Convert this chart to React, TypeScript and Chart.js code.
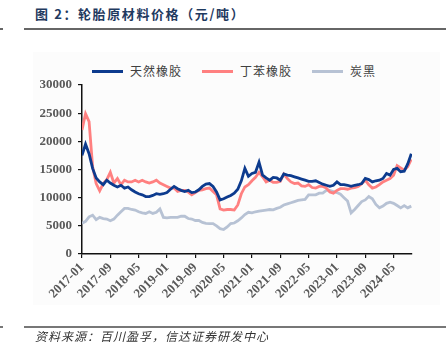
import React, { useEffect, useRef } from 'react';
import { Chart, registerables } from 'chart.js';

Chart.register(...registerables);

// x-axis tick labels (every 8 months, monthly data index 0 = 2017-01)
const tickLabels = ['2017-01', '2017-09', '2018-05', '2019-01', '2019-09', '2020-05', '2021-01', '2021-09', '2022-05', '2023-01', '2023-09', '2024-05'];

// 天然橡胶 (monthly, 2017-01 .. 2024-10)
const naturalRubber = [
  17500, 19500, 17800, 15200, 13500, 12800, 12300, 13100, 12600, 12200, 11900, 12200,
  11700, 11900, 11400, 11000, 10700, 10500, 10200, 10200, 10400, 10700, 10600, 10700,
  10900, 11500, 12000, 11600, 11300, 11100, 11300, 10900, 11000, 11400, 12000, 12400,
  12500, 12000, 11000, 9600, 9800, 10100, 10400, 10800, 11500, 13000, 15200, 13800,
  14300, 14500, 16300, 14000, 13500, 13100, 13600, 13500, 13100, 14200, 14000, 13900,
  13700, 13500, 13300, 13100, 12900, 12900, 13000, 12700, 12400, 12200, 12000, 12200,
  12800, 12300, 12300, 12200, 12000, 12200, 12300, 12500, 13400, 13200, 12800, 13000,
  13100, 13400, 14300, 14000, 15000, 15200, 14600, 14700, 16000, 17800,
];

// 丁苯橡胶
const sbr = [
  22000, 24900, 23500, 15500, 12500, 11200, 12500, 13200, 14500, 12600, 13400, 12300,
  13100, 12800, 12800, 13100, 12800, 13100, 12800, 12600, 12800, 13100, 12600, 12300,
  12000, 11700, 11700, 11100, 11300, 11300, 11000, 10500, 10900, 11300, 11400, 11600,
  11700, 11100, 10500, 8000, 7800, 7900, 7900, 7800, 8700, 10700, 11900, 12300,
  13000, 13600, 14500, 13700, 12800, 13100, 12700, 12700, 12900, 14200, 13400, 12800,
  12500, 12600, 12100, 12000, 12300, 11800, 11700, 12000, 12000, 11700, 11000, 10800,
  11300, 11600, 11600, 11500, 11700, 11800, 12000, 12500, 13100, 12300, 11700, 11900,
  12300, 12800, 13100, 13400, 14000, 15700, 15300, 14900, 15500, 16800,
];

// 炭黑
const carbonBlack = [
  5450, 5800, 6600, 6900, 6100, 6500, 6300, 6200, 5900, 6200, 6900, 7500,
  8100, 8100, 7900, 7800, 7500, 7300, 7200, 7500, 7200, 7400, 8000, 6500,
  6400, 6500, 6500, 6500, 6700, 6700, 6300, 6200, 5950, 5950, 5600, 5450,
  5400, 5400, 5000, 4500, 4350, 4800, 5400, 5500, 5900, 6400, 7000, 7400,
  7300, 7500, 7600, 7700, 7800, 7900, 7850, 8100, 8300, 8700, 8900, 9100,
  9300, 9500, 9600, 9700, 10500, 10500, 10500, 10800, 10800, 11300, 11300, 11100,
  10900, 10600, 10000, 9400, 7300, 7900, 8600, 9300, 9600, 10200, 9800, 8800,
  8200, 8500, 9000, 9200, 9000, 8600, 8200, 8600, 8200, 8500,
];

const seriesNames = ['天然橡胶', '丁苯橡胶', '炭黑'];
const seriesColors = ['#0d3b8e', '#ff8080', '#b7c2d4'];

const tickFont = { family: '"Liberation Serif", "Times New Roman", serif', size: 13, weight: 'bold' as const };

export default function App() {
  const ref = useRef<HTMLCanvasElement>(null);

  useEffect(() => {
    if (!ref.current) return;
    const toPts = (arr: number[]) => arr.map((y, i) => ({ x: i, y }));
    const all = [naturalRubber, sbr, carbonBlack];
    const chart = new Chart(ref.current, {
      type: 'line',
      data: {
        datasets: all.map((arr, i) => ({
          label: seriesNames[i],
          data: toPts(arr),
          borderColor: seriesColors[i],
          backgroundColor: seriesColors[i],
          borderWidth: 2.8,
          pointRadius: 0,
          tension: 0,
          fill: false,
        })),
      },
      options: {
        animation: false,
        responsive: false,
        maintainAspectRatio: false,
        layout: { padding: { left: 0, right: 34, top: 85, bottom: 39 } },
        plugins: { legend: { display: false }, tooltip: { enabled: false }, title: { display: false } },
        scales: {
          x: {
            type: 'linear',
            min: 0,
            max: 93.2,
            border: { display: true, color: '#111', width: 1.5 },
            grid: { drawOnChartArea: false, color: '#111', lineWidth: 1.2, tickLength: 4 },
            ticks: {
              stepSize: 8,
              includeBounds: false,
              autoSkip: false,
              minRotation: 45,
              maxRotation: 45,
              padding: 2,
              color: '#595959',
              font: tickFont,
              callback: (v: any) => {
                const idx = Math.round(Number(v) / 8);
                return Number(v) % 8 === 0 ? tickLabels[idx] ?? '' : '';
              },
            },
            afterFit: (s: any) => { s.height = 60; },
          },
          y: {
            min: 0,
            max: 30000,
            border: { display: true, color: '#111', width: 1.5 },
            grid: { drawOnChartArea: false, color: '#111', lineWidth: 1.2, tickLength: 4 },
            ticks: {
              stepSize: 5000,
              padding: 6,
              color: '#595959',
              font: tickFont,
              callback: (v: any) => String(v),
            },
            afterFit: (s: any) => { s.width = 82; },
          },
        },
      },
    });
    return () => chart.destroy();
  }, []);

  const cjk = '"Noto Sans CJK SC", "Noto Sans", sans-serif';
  const legendItems = [
    { name: seriesNames[0], color: seriesColors[0], lineX: 92, textX: 130 },
    { name: seriesNames[1], color: seriesColors[1], lineX: 202, textX: 240 },
    { name: seriesNames[2], color: seriesColors[2], lineX: 312, textX: 350 },
  ];

  return (
    <div style={{ position: 'fixed', left: 0, top: 0, width: 446, height: 353, background: '#fff', overflow: 'hidden' }}>
      <div style={{ position: 'absolute', left: 33, top: 52, width: 407, height: 253, background: '#fcfcfc' }} />
      <div style={{ position: 'absolute', left: 35, top: 5, font: `bold 13px ${cjk}`, color: '#1f3a5f', letterSpacing: '1.6px', lineHeight: '18px', whiteSpace: 'nowrap' }}>
        图 2：轮胎原材料价格（元/吨）
      </div>
      <div style={{ position: 'absolute', left: 24, top: 28, width: 422, height: 1.5, background: '#666' }} />
      <div style={{ position: 'absolute', left: 0, top: 28, width: 3, height: 1.5, background: '#666' }} />
      {legendItems.map((it) => (
        <React.Fragment key={it.name}>
          <div style={{ position: 'absolute', left: it.lineX, top: 70, width: 31, height: 3, background: it.color }} />
          <div style={{ position: 'absolute', left: it.textX, top: 62, font: `12px ${cjk}`, color: '#404040', letterSpacing: '1px', lineHeight: '18px', whiteSpace: 'nowrap' }}>
            {it.name}
          </div>
        </React.Fragment>
      ))}
      <canvas ref={ref} width={446} height={353} style={{ position: 'absolute', left: 0, top: 0, width: 446, height: 353 }} />
      <div style={{ position: 'absolute', left: 24, top: 326, width: 422, height: 1.5, background: '#777' }} />
      <div style={{ position: 'absolute', left: 0, top: 326, width: 3, height: 1.5, background: '#777' }} />
      <div style={{ position: 'absolute', left: 35, top: 328, font: `italic 12px ${cjk}`, color: '#333', letterSpacing: '1px', lineHeight: '16px', whiteSpace: 'nowrap' }}>
        资料来源：百川盈孚，信达证券研发中心
      </div>
    </div>
  );
}
